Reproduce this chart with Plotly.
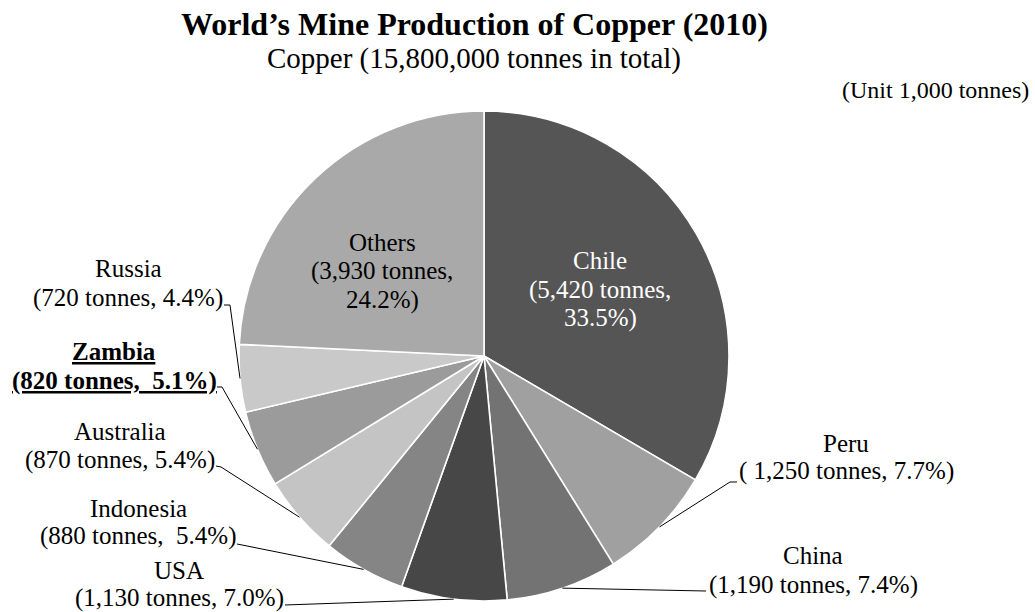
import math
import plotly.graph_objects as go

# ---- data ----
countries = ["Chile", "Peru", "China", "USA", "Indonesia", "Australia", "Zambia", "Russia", "Others"]
tonnes = [5420, 1250, 1190, 1130, 880, 870, 820, 720, 3930]
shares = ["33.5%", "7.7%", "7.4%", "7.0%", "5.4%", "5.4%", "5.1%", "4.4%", "24.2%"]
colors = ["#555555", "#a0a0a0", "#737373", "#474747", "#858585",
          "#c4c4c4", "#9b9b9b", "#c9c9c9", "#a9a9a9"]

W, H = 1035, 612
FONT = "Liberation Serif, Times New Roman, serif"

# pie geometry in pixels
CX, CY, R = 484, 356, 245


def px(x):
    return x / W


def py(y):
    return 1 - y / H


fig = go.Figure(go.Pie(
    labels=countries,
    values=tonnes,
    sort=False,
    direction="clockwise",
    rotation=0,
    marker=dict(colors=colors, line=dict(color="white", width=1.6)),
    textinfo="none",
    hoverinfo="label+value",
    showlegend=False,
    domain=dict(x=[px(CX - R), px(CX + R)], y=[py(CY + R), py(CY - R)]),
))

# label lines
label_lines = {
    "Chile": ["Chile", "(5,420 tonnes,", "33.5%)"],
    "Others": ["Others", "(3,930 tonnes,", "24.2%)"],
    "Peru": ["Peru", "( 1,250 tonnes, 7.7%)"],
    "China": ["China", "(1,190 tonnes, 7.4%)"],
    "USA": ["USA", "(1,130 tonnes, 7.0%)"],
    "Indonesia": ["Indonesia", "(880 tonnes, \u00a05.4%)"],
    "Australia": ["Australia", "(870 tonnes, 5.4%)"],
    "Zambia": ["<b><u>Zambia</u></b>", "<b><u>(820 tonnes, \u00a05.1%)</u></b>"],
    "Russia": ["Russia", "(720 tonnes, 4.4%)"],
}
# label centre x and per-line centre y (pixels), text colour
label_pos = {
    "Chile": (600, [260, 290, 318], "white"),
    "Others": (382, [243, 271, 300], "black"),
    "Peru": (846, [443, 471], "black"),
    "China": (813, [555, 585], "black"),
    "USA": (179, [570, 598], "black"),
    "Indonesia": (138, [508, 536], "black"),
    "Australia": (120, [431, 460], "black"),
    "Zambia": (114, [351, 381], "black"),
    "Russia": (128, [268, 298], "black"),
}
# leader line anchor points near the labels (pixels)
leader_anchor = {
    "Peru": [(737, 482), (730, 482)],
    "China": [(706, 591)],
    "USA": [(285, 605)],
    "Indonesia": [(237, 544), (242, 545)],
    "Australia": [(216, 466), (221, 467)],
    "Zambia": [(217, 387), (222, 387)],
    "Russia": [(224, 305), (230, 305)],
}

annotations = [
    dict(text="<b>World\u2019s Mine Production of Copper (2010)</b>",
         x=px(474), y=py(24), xref="paper", yref="paper",
         xanchor="center", yanchor="middle", showarrow=False,
         font=dict(family=FONT, size=32, color="black")),
    dict(text="Copper (15,800,000 tonnes in total)",
         x=px(474), y=py(58), xref="paper", yref="paper",
         xanchor="center", yanchor="middle", showarrow=False,
         font=dict(family=FONT, size=29, color="black")),
    dict(text="(Unit 1,000 tonnes)",
         x=px(1031), y=py(90), xref="paper", yref="paper",
         xanchor="right", yanchor="middle", showarrow=False,
         font=dict(family=FONT, size=24, color="black")),
]

for name in countries:
    x, ys, col = label_pos[name]
    for line, y in zip(label_lines[name], ys):
        annotations.append(dict(
            text=line, x=px(x), y=py(y), xref="paper", yref="paper",
            xanchor="center", yanchor="middle", showarrow=False, align="center",
            font=dict(family=FONT, size=25, color=col)))

# leader lines: end point on the slice edge at the slice mid-angle (from data)
total = sum(tonnes)
shapes = []
cum = 0.0
for name, v in zip(countries, tonnes):
    mid = (cum + v / 2) / total
    cum += v
    if name not in leader_anchor:
        continue
    ang = mid * 2 * math.pi
    ex = CX + R * math.sin(ang)
    ey = CY - R * math.cos(ang)
    pts = leader_anchor[name] + [(ex, ey)]
    path = "M " + " L ".join(f"{px(a):.5f},{py(b):.5f}" for a, b in pts)
    shapes.append(dict(type="path", path=path, xref="paper", yref="paper",
                       line=dict(color="black", width=1)))

fig.update_layout(
    width=W, height=H,
    margin=dict(l=0, r=0, t=0, b=0),
    paper_bgcolor="white", plot_bgcolor="white",
    annotations=annotations,
    shapes=shapes,
    font=dict(family=FONT),
)

fig.write_html("out.html",
               config={"displayModeBar": False},
               post_script="document.body.style.margin='0';document.body.style.overflow='hidden';")
